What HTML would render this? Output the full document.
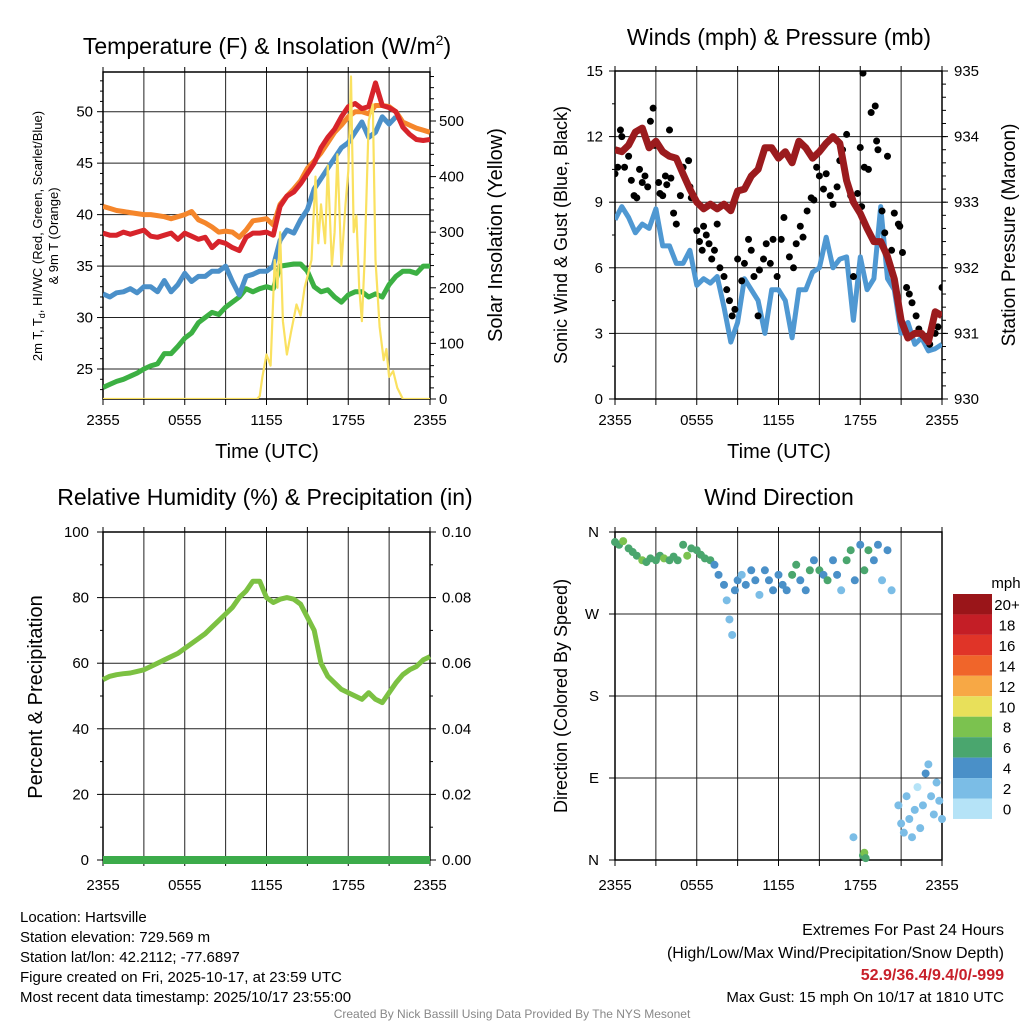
<!DOCTYPE html>
<html><head><meta charset="utf-8">
<style>
html,body{margin:0;padding:0;background:#fff;}
svg{display:block;font-family:"Liberation Sans",Arial,sans-serif;}
</style></head>
<body>
<svg id="c" width="1024" height="1024" viewBox="0 0 1024 1024"></svg>
<script>
// ---------- DATA ----------
const tGrid = [0,0.5,1,1.5,2,2.5,3,3.5,4,4.5,5,5.5,6,6.5,7,7.5,8,8.5,9,9.5,10,10.5,11,11.5,12,12.5,13,13.5,14,14.5,15,15.5,16,16.5,17,17.5,18,18.5,19,19.5,20,20.5,21,21.5,22,22.5,23,23.5,24];
const tempOrange = [40.8,40.6,40.4,40.3,40.2,40.1,40,40,39.9,39.8,39.6,39.8,40,40.3,39.5,39.2,38.8,38.3,38.4,38.3,37.8,38.5,39.4,39.5,39.6,39,41,41.8,42.5,43.3,44.5,45.2,46,47,48,48.7,49.5,50,50,49.8,50.6,50.6,50.5,50,49,48.7,48.4,48.2,48];
const tempRed = [38.2,38,38,38.3,38.1,38.3,38.5,37.9,37.8,38,38.2,37.6,38.2,37.9,37.6,37.8,36.8,37.4,37.2,36.8,36.5,37.8,38.2,38.2,38.3,38,40.8,41.8,42.2,43,44,45,46.5,47.5,48.3,49.5,50.5,50.8,50.3,50.5,52.8,50.6,50.4,50,48.5,47.8,47.3,47.2,47.3];
const tempBlue = [32.3,32,32.4,32.5,32.8,32.4,33,33,32.5,33.6,32.5,33.2,34.3,33.5,34,34,34.5,34.5,35,33.5,32.2,34,34.2,34.5,34.5,35,37.5,38.5,38.2,39.5,40.5,42.5,43.5,44.5,45.5,46.5,47,48,49,47.5,48,49.5,48.8,49.5];
const tempGreen = [23.2,23.5,23.8,24,24.3,24.6,25,25.3,25.5,26.5,26.5,27.2,28,28.5,29.5,30,30.5,30.3,31,31.5,32,32.8,32.5,32.8,33,32.8,35,35.1,35.2,35.2,34.5,33,32.5,32.7,32,31.5,32.2,32.5,32.5,32,32.3,32,33.2,34,34.5,34.5,34.3,35,35];
const solarT = [0,11.3,11.5,11.7,12,12.3,12.6,12.8,13,13.2,13.5,13.8,14.2,14.5,14.8,15,15.3,15.6,15.8,16,16.3,16.5,16.8,17,17.2,17.5,17.8,18,18.2,18.4,18.6,18.8,19,19.2,19.5,19.8,20,20.3,20.6,20.8,21,21.3,21.6,22,24];
const solarV = [0,0,5,40,80,60,250,200,300,140,80,120,170,150,200,220,250,400,280,350,280,420,240,300,440,240,350,410,580,300,330,200,140,250,500,530,250,130,70,90,40,50,20,0,0];
const windBlue = [8.2,8.8,8.3,7.6,8,7.8,8.7,7,7,6.2,6.2,6.8,5.2,5.5,5.3,5.6,4.2,2.6,3.5,5.5,5,4.5,3,5,5,4.5,2.8,5,5,5.8,6,7.4,6,6.4,6.5,3.6,6.5,5,5.5,8.8,5.5,5,3,3.5,2.5,2.8,2.2,2.3,2.5];
const pressure = [933.8,933.77,933.87,934.07,934.13,933.83,933.93,933.77,933.7,933.67,933.43,933.2,933,932.9,932.97,932.9,932.97,932.87,933.17,933.2,933.4,933.5,933.83,933.83,933.67,933.77,933.6,933.93,933.83,933.67,933.77,933.9,934,933.9,933.33,933,932.83,932.6,932.4,932.4,932.17,931.83,931.2,930.93,931,931,930.87,931.33,931.27];
const gustT = [0,0.2,0.4,0.5,0.7,1,1.2,1.4,1.6,1.8,2,2.2,2.4,2.6,2.8,2.9,3.2,3.3,3.5,3.7,3.8,4,4.1,4.3,4.5,4.8,5,5.4,5.5,5.6,6,6.2,6.4,6.5,6.7,6.9,7.1,7.3,7.5,7.7,8,8.2,8.4,8.6,8.8,9,9.3,9.5,9.8,10,10.2,10.5,10.6,10.9,11.1,11.4,11.6,11.9,12.2,12.4,12.8,13.1,13.3,13.6,13.8,14.1,14.4,14.6,14.8,15,15.3,15.5,15.8,16,16.3,16.5,16.7,17,17.3,17.5,17.8,18,18.1,18.2,18.3,18.6,18.8,19.1,19.2,19.3,19.6,19.8,20,20.3,20.5,20.8,20.9,21.1,21.4,21.6,21.8,22.1,22.3,22.6,23.1,23.5,23.7,24];
const gustV = [10.3,10.6,12.3,12,10.6,11.1,10,9.3,9.2,10.5,9.9,10.2,9.7,12.7,13.3,11.6,9.9,9.4,9.3,10.2,9.8,12.3,10.1,8.5,8,9.3,10.6,10.9,9.7,9.2,7.7,7.2,6.8,7.9,7.5,7.1,6.4,6.8,8,6,5.6,5,4.5,3.8,4.1,6.4,5.4,6.2,7.3,6.8,5.6,3.8,5.9,6.4,7.1,6.2,7.3,5.6,7.3,8.3,6.5,6,7.1,7.9,7.4,8.6,9.2,9.1,10.6,10.2,9.6,10.3,9.3,8.9,9.7,10.9,11.4,12.1,9.3,5.6,9.4,11.5,8.8,14.9,10.6,10.5,13.1,13.4,11.8,11.4,8.6,7.6,11.1,6.8,8.5,8,7.9,6.7,5.1,4.8,4.4,3.8,3.2,2.9,2.5,3,3.3,5.1];
const rhValues = [55,56,56.5,56.8,57,57.5,58,59,60,61,62,63,64.5,66,67.5,69,71,73,75,77,80,82,85,85,80,78.5,79.5,80,79.5,78,74,70,60,56,54,52,51,50,49,51,49,48,51,54,56.5,58,59,61,62];
const precipValues = [0,0,0,0,0,0,0,0,0,0,0,0,0,0,0,0,0,0,0,0,0,0,0,0,0,0,0,0,0,0,0,0,0,0,0,0,0,0,0,0,0,0,0,0,0,0,0,0,0];
const dirT = [0,0.3,0.6,1,1.3,1.6,2,2.3,2.6,3,3.3,3.6,4,4.3,4.6,5,5.3,5.6,6,6.3,6.6,7,7.3,7.6,8,8.2,8.4,8.6,8.8,9,9.3,9.6,10,10.3,10.6,11,11.3,11.6,12,12.3,12.6,13,13.3,13.6,14,14.3,14.6,15,15.3,15.6,16,16.3,16.6,17,17.3,17.6,18,18.3,18.6,19,19.3,19.6,20,20.3,17.5,18.2,18.3,18.4,20.8,21,21.2,21.4,21.6,21.8,22,22.2,22.4,22.6,22.8,23,23.2,23.4,23.6,23.8,24];
const dirDeg = [349,346,350,342,338,334,329,327,331,329,334,331,329,333,329,346,334,342,340,335,331,329,324,313,302,285,264,247,296,307,313,302,318,307,291,318,307,296,313,302,296,313,324,307,296,318,329,318,313,307,329,313,296,329,340,307,346,318,340,329,346,307,340,296,25,5,8,2,60,40,30,70,45,25,55,80,35,60,95,105,70,50,85,65,45];
const dirSpd = [7,7,8.5,7,7.5,6.5,8.5,6.5,7,7,6.5,8.5,7.5,7,6.5,7,8.5,6.5,7,6.5,7,6.5,5,5,4.5,3,2.5,3,4.5,5,3.5,4.5,5,4.5,3,4.5,5,4,4.5,5,4.5,6.5,7,5,4.5,6.5,5,7,5,6.5,4.5,5,3.5,6.5,7,5,4.5,7,7,5,4.5,3.5,4.5,3.5,2.5,7,8,6.5,2.5,3,2.5,3,2.5,2,3,1.5,2.5,3,4,2.5,3,2,3.5,2.5,3];
const legendLabels = ["20+","18","16","14","12","10","8","6","4","2","0"];
const legendColors = ["#9a1519","#c41e26","#e03428","#f0652a","#f7a845","#e8e05a","#7bc24f","#4aa66e","#4a90c8","#7bbde6","#b5e3f7"];

// ---------- HELPERS ----------
const NS="http://www.w3.org/2000/svg";
const svg=document.getElementById('c');
function el(tag,attrs,parent){const e=document.createElementNS(NS,tag);for(const k in attrs)e.setAttribute(k,attrs[k]);(parent||svg).appendChild(e);return e;}
function txt(s,x,y,size,anchor,parent,extra){const e=el('text',Object.assign({x:x,y:y,'font-size':size,'text-anchor':anchor||'middle',fill:'#000'},extra||{}),parent);e.textContent=s;return e;}
function spdColor(s){const i=Math.min(10,Math.floor(s/2));return legendColors[10-i];}

const X0L=103,X1L=430,X0R=615,X1R=942;
function xs(x0,x1){return t=>x0+(x1-x0)*t/24;}
function ys(yTop,yBot,vTop,vBot){return v=>yBot+(yTop-yBot)*(v-vBot)/(vTop-vBot);}
function pathFrom(ts,vs,xf,yf){let d='';for(let i=0;i<vs.length;i++){d+=(i?'L':'M')+xf(ts[i]).toFixed(1)+','+yf(vs[i]).toFixed(1);}return d;}

function frame(g,x0,x1,yT,yB,hLines,yf,xLabelY){
  for(let h=3;h<24;h+=3){const x=xs(x0,x1)(h);const l=el('line',{x1:x,y1:yT,x2:x,y2:yB,stroke:'#222','stroke-width':1},g);}
  hLines.forEach(v=>{const y=yf(v);const l=el('line',{x1:x0,y1:y,x2:x1,y2:y,stroke:'#222','stroke-width':1},g);});
  el('rect',{x:x0,y:yT,width:x1-x0,height:yB-yT,fill:'none',stroke:'#000','stroke-width':1.5},g);
  for(let h=0;h<=24;h+=3){const x=xs(x0,x1)(h);el('line',{x1:x,y1:yB,x2:x,y2:yB+6,stroke:'#000','stroke-width':1},g);el('line',{x1:x,y1:yT,x2:x,y2:yT-5,stroke:'#000','stroke-width':1},g);}
  const labs=["2355","0555","1155","1755","2355"];
  labs.forEach((s,i)=>{const t=txt(s,xs(x0,x1)(i*6),xLabelY,15,'middle',g);});
}

// ---------- PANEL 1 ----------
(function(){
const g=el('g',{});
const yT=72,yB=399;
const xf=xs(X0L,X1L);
const yTemp=ys(111.7,369,50,25);
const ySol=ys(121,399,500,0);
frame(g,X0L,X1L,yT,yB,[25,30,35,40,45,50],yTemp,425);
[25,30,35,40,45,50].forEach(v=>{el('line',{x1:X0L-6,y1:yTemp(v),x2:X0L,y2:yTemp(v),stroke:'#000'},g);const t=txt(String(v),X0L-10,yTemp(v)+5,15,'end',g);});
for(let v=23;v<=53;v++){if(v%5)el('line',{x1:X0L-3,y1:yTemp(v),x2:X0L,y2:yTemp(v),stroke:'#000'},g);}
[0,100,200,300,400,500].forEach(v=>{el('line',{x1:X1L,y1:ySol(v),x2:X1L+6,y2:ySol(v),stroke:'#000'},g);const t=txt(String(v),X1L+9,ySol(v)+5,15,'start',g);});
for(let v=20;v<=580;v+=20){if(v%100)el('line',{x1:X1L,y1:ySol(v),x2:X1L+4,y2:ySol(v),stroke:'#000'},g);}
const clip=el('clipPath',{id:'cp1'},g);el('rect',{x:X0L,y:yT,width:X1L-X0L,height:yB-yT},clip);
const d=el('g',{'clip-path':'url(#cp1)'},g);
let p;
p=el('path',{d:pathFrom(tGrid,tempGreen,xf,yTemp),fill:'none',stroke:'#3cb043','stroke-width':5,'stroke-linejoin':'round'},d);
p=el('path',{d:pathFrom(tGrid,tempOrange,xf,yTemp),fill:'none',stroke:'#f5862b','stroke-width':5,'stroke-linejoin':'round'},d);
p=el('path',{d:pathFrom(tGrid,tempBlue,xf,yTemp),fill:'none',stroke:'#4b90c9','stroke-width':5,'stroke-linejoin':'round'},d);
p=el('path',{d:pathFrom(tGrid,tempRed,xf,yTemp),fill:'none',stroke:'#d7242b','stroke-width':5,'stroke-linejoin':'round'},d);
p=el('path',{d:pathFrom(solarT,solarV,xf,ySol),fill:'none',stroke:'#fae160','stroke-width':2.2,'stroke-linejoin':'round'},d);
let t=el('text',{x:267,y:54,'font-size':23,'text-anchor':'middle'},g);t.innerHTML='Temperature (F) &amp; Insolation (W/m<tspan dy="-9" font-size="14">2</tspan><tspan dy="9">)</tspan>';
t=txt('Time (UTC)',267,458,20,'middle',g);
t=el('text',{x:0,y:0,'font-size':13,'text-anchor':'middle',transform:'translate(42,236) rotate(-90)'},g);t.innerHTML='2m T, T<tspan dy="3" font-size="9">d</tspan><tspan dy="-3">, HI/WC (Red, Green, Scarlet/Blue)</tspan>';
t=el('text',{x:0,y:0,'font-size':13,'text-anchor':'middle',transform:'translate(58,236) rotate(-90)'},g);t.textContent='& 9m T (Orange)';
t=el('text',{x:0,y:0,'font-size':20,'text-anchor':'middle',transform:'translate(502,235) rotate(-90)'},g);t.textContent='Solar Insolation (Yellow)';
})();

// ---------- PANEL 2 ----------
(function(){
const g=el('g',{});
const yT=71,yB=399;
const xf=xs(X0R,X1R);
const yW=ys(71,399,15,0);
const yP=ys(71,399,935,930);
frame(g,X0R,X1R,yT,yB,[3,6,9,12],yW,425);
[0,3,6,9,12,15].forEach(v=>{el('line',{x1:X0R-6,y1:yW(v),x2:X0R,y2:yW(v),stroke:'#000'},g);const t=txt(String(v),X0R-12,yW(v)+5,15,'end',g);});
for(let v=1.5;v<15;v+=3)el('line',{x1:X0R-3,y1:yW(v),x2:X0R,y2:yW(v),stroke:'#000'},g);
[930,931,932,933,934,935].forEach(v=>{el('line',{x1:X1R,y1:yP(v),x2:X1R+6,y2:yP(v),stroke:'#000'},g);const t=txt(String(v),X1R+12,yP(v)+5,15,'start',g);});
for(let v=930.2;v<935;v+=0.2){el('line',{x1:X1R,y1:yP(v),x2:X1R+4,y2:yP(v),stroke:'#000'},g);}
const clip=el('clipPath',{id:'cp2'},g);el('rect',{x:X0R,y:yT,width:X1R-X0R,height:yB-yT},clip);
const d=el('g',{'clip-path':'url(#cp2)'},g);
let p=el('path',{d:pathFrom(tGrid,windBlue,xf,yW),fill:'none',stroke:'#4f98d2','stroke-width':5,'stroke-linejoin':'round'},d);
for(let i=0;i<gustV.length;i++){const c=el('circle',{cx:xf(gustT[i]),cy:yW(gustV[i]),r:3.5,fill:'#000'},d);}
p=el('path',{d:pathFrom(tGrid,pressure,xf,yP),fill:'none',stroke:'#9b1b1e','stroke-width':7,'stroke-linejoin':'round'},d);
let t=txt('Winds (mph) & Pressure (mb)',779,45,23,'middle',g);
t=txt('Time (UTC)',779,458,20,'middle',g);
t=el('text',{x:0,y:0,'font-size':18,'text-anchor':'middle',transform:'translate(567,235) rotate(-90)'},g);t.textContent='Sonic Wind & Gust (Blue, Black)';
t=el('text',{x:0,y:0,'font-size':19,'text-anchor':'middle',transform:'translate(1015,235) rotate(-90)'},g);t.textContent='Station Pressure (Maroon)';
})();

// ---------- PANEL 3 ----------
(function(){
const g=el('g',{});
const yT=532,yB=860;
const xf=xs(X0L,X1L);
const yR=ys(532,860,100,0);
const yPr=ys(532,860,0.1,0);
frame(g,X0L,X1L,yT,yB,[20,40,60,80],yR,890);
[0,20,40,60,80,100].forEach(v=>{el('line',{x1:X0L-6,y1:yR(v),x2:X0L,y2:yR(v),stroke:'#000'},g);const t=txt(String(v),X0L-14,yR(v)+5,15,'end',g);});
for(let v=10;v<100;v+=20)el('line',{x1:X0L-3,y1:yR(v),x2:X0L,y2:yR(v),stroke:'#000'},g);
['0.00','0.02','0.04','0.06','0.08','0.10'].forEach((s,i)=>{const v=i*0.02;el('line',{x1:X1L,y1:yPr(v),x2:X1L+6,y2:yPr(v),stroke:'#000'},g);const t=txt(s,X1L+12,yPr(v)+5,15,'start',g);});
for(let v=0.01;v<0.1;v+=0.02)el('line',{x1:X1L,y1:yPr(v),x2:X1L+3,y2:yPr(v),stroke:'#000'},g);
let p=el('path',{d:pathFrom(tGrid,rhValues,xf,yR),fill:'none',stroke:'#7cc142','stroke-width':5,'stroke-linejoin':'round'},g);
p=el('path',{d:pathFrom(tGrid,precipValues,xf,yPr),fill:'none',stroke:'#3cab4a','stroke-width':8},g);
let t=txt('Relative Humidity (%) & Precipitation (in)',265,505,23,'middle',g);
t=el('text',{x:0,y:0,'font-size':20,'text-anchor':'middle',transform:'translate(42,697) rotate(-90)'},g);t.textContent='Percent & Precipitation';
})();

// ---------- PANEL 4 ----------
(function(){
const g=el('g',{});
const yT=532,yB=860;
const xf=xs(X0R,X1R);
const yD=ys(532,860,360,0);
frame(g,X0R,X1R,yT,yB,[90,180,270],yD,890);
[['N',0],['E',90],['S',180],['W',270],['N',360]].forEach(a=>{el('line',{x1:X0R-6,y1:yD(a[1]),x2:X0R,y2:yD(a[1]),stroke:'#000'},g);const t=txt(a[0],X0R-16,yD(a[1])+5,15,'end',g);});
for(let i=0;i<dirDeg.length;i++){const c=el('circle',{cx:xf(dirT[i]),cy:yD(dirDeg[i]),r:4,fill:spdColor(dirSpd[i])},g);}
let t=txt('Wind Direction',779,505,23,'middle',g);
t=el('text',{x:0,y:0,'font-size':18,'text-anchor':'middle',transform:'translate(567,696) rotate(-90)'},g);t.textContent='Direction (Colored By Speed)';
const lg=el('g',{},g);
t=txt('mph',1006,588,15,'middle',lg);
legendLabels.forEach((s,i)=>{const r=el('rect',{x:953,y:594+i*20.45,width:39,height:20.45,fill:legendColors[i]},lg);const tt=txt(s,1007,610+i*20.45,15,'middle',lg);});
})();

// ---------- FOOTER ----------
(function(){
const g=el('g',{});
const lines=['Location: Hartsville','Station elevation: 729.569 m','Station lat/lon: 42.2112; -77.6897','Figure created on Fri, 2025-10-17, at 23:59 UTC','Most recent data timestamp: 2025/10/17 23:55:00'];
lines.forEach((s,i)=>{const t=txt(s,20,922+i*20,15,'start',g);});
let t=txt('Extremes For Past 24 Hours',1004,935,16,'end',g);
t=txt('(High/Low/Max Wind/Precipitation/Snow Depth)',1004,958,16,'end',g);
t=txt('52.9/36.4/9.4/0/-999',1004,980,16,'end',g,{fill:'#c8202a','font-weight':'bold'});
t=txt('Max Gust: 15 mph On 10/17 at 1810 UTC',1004,1002,15,'end',g);
t=txt('Created By Nick Bassill Using Data Provided By The NYS Mesonet',512,1018,12,'middle',g,{fill:'#888'});
})();
</script>
</body></html>
